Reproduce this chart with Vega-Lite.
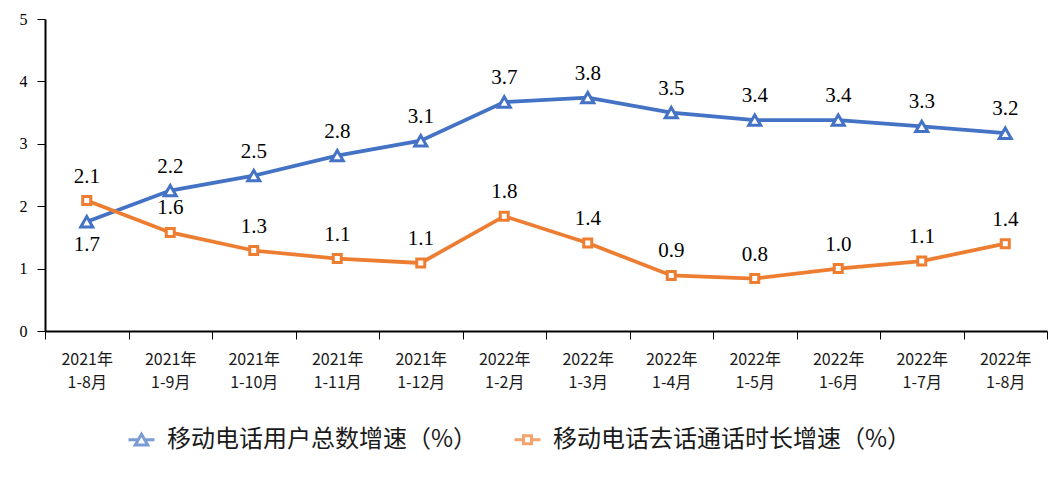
{
  "$schema": "https://vega.github.io/schema/vega-lite/v6.json",
  "width": 1002,
  "height": 312,
  "autosize": {"type": "none"},
  "padding": {"left": 45, "top": 19, "right": 11, "bottom": 155},
  "background": "white",
  "config": {
    "view": {"stroke": null},
    "axis": {"grid": false}
  },
  "data": {
    "values": [
      {"cat": "2021年 1-8月", "series": "移动电话用户总数增速（%）", "value": 1.75, "label": "1.7"},
      {"cat": "2021年 1-9月", "series": "移动电话用户总数增速（%）", "value": 2.25, "label": "2.2"},
      {"cat": "2021年 1-10月", "series": "移动电话用户总数增速（%）", "value": 2.49, "label": "2.5"},
      {"cat": "2021年 1-11月", "series": "移动电话用户总数增速（%）", "value": 2.81, "label": "2.8"},
      {"cat": "2021年 1-12月", "series": "移动电话用户总数增速（%）", "value": 3.05, "label": "3.1"},
      {"cat": "2022年 1-2月", "series": "移动电话用户总数增速（%）", "value": 3.67, "label": "3.7"},
      {"cat": "2022年 1-3月", "series": "移动电话用户总数增速（%）", "value": 3.74, "label": "3.8"},
      {"cat": "2022年 1-4月", "series": "移动电话用户总数增速（%）", "value": 3.50, "label": "3.5"},
      {"cat": "2022年 1-5月", "series": "移动电话用户总数增速（%）", "value": 3.38, "label": "3.4"},
      {"cat": "2022年 1-6月", "series": "移动电话用户总数增速（%）", "value": 3.38, "label": "3.4"},
      {"cat": "2022年 1-7月", "series": "移动电话用户总数增速（%）", "value": 3.28, "label": "3.3"},
      {"cat": "2022年 1-8月", "series": "移动电话用户总数增速（%）", "value": 3.17, "label": "3.2"},
      {"cat": "2021年 1-8月", "series": "移动电话去话通话时长增速（%）", "value": 2.09, "label": "2.1"},
      {"cat": "2021年 1-9月", "series": "移动电话去话通话时长增速（%）", "value": 1.58, "label": "1.6"},
      {"cat": "2021年 1-10月", "series": "移动电话去话通话时长增速（%）", "value": 1.29, "label": "1.3"},
      {"cat": "2021年 1-11月", "series": "移动电话去话通话时长增速（%）", "value": 1.16, "label": "1.1"},
      {"cat": "2021年 1-12月", "series": "移动电话去话通话时长增速（%）", "value": 1.09, "label": "1.1"},
      {"cat": "2022年 1-2月", "series": "移动电话去话通话时长增速（%）", "value": 1.84, "label": "1.8"},
      {"cat": "2022年 1-3月", "series": "移动电话去话通话时长增速（%）", "value": 1.41, "label": "1.4"},
      {"cat": "2022年 1-4月", "series": "移动电话去话通话时长增速（%）", "value": 0.89, "label": "0.9"},
      {"cat": "2022年 1-5月", "series": "移动电话去话通话时长增速（%）", "value": 0.84, "label": "0.8"},
      {"cat": "2022年 1-6月", "series": "移动电话去话通话时长增速（%）", "value": 1.00, "label": "1.0"},
      {"cat": "2022年 1-7月", "series": "移动电话去话通话时长增速（%）", "value": 1.12, "label": "1.1"},
      {"cat": "2022年 1-8月", "series": "移动电话去话通话时长增速（%）", "value": 1.40, "label": "1.4"}
    ]
  },
  "encoding": {
    "x": {
      "field": "cat", "type": "nominal", "sort": null, "bandPosition": 0.5,
      "scale": {"type": "band", "paddingInner": 0, "paddingOuter": 0},
      "axis": {
        "title": null, "labelAngle": 0, "tickBand": "extent",
        "labelExpr": "split(datum.label, ' ')",
        "labelFont": "Noto Sans CJK SC", "labelFontSize": 16, "labelColor": "#1a1a1a",
        "labelLineHeight": 23, "labelPadding": 12, "labelBaseline": "top",
        "tickSize": 8, "tickColor": "black", "tickWidth": 1,
        "domainColor": "black", "domainWidth": 2
      }
    },
    "y": {
      "field": "value", "type": "quantitative",
      "scale": {"domain": [0, 5], "nice": false, "zero": true},
      "axis": {
        "title": null, "values": [0, 1, 2, 3, 4, 5], "format": "d",
        "labelFont": "Liberation Serif", "labelFontSize": 16, "labelColor": "black",
        "labelPadding": 10, "tickSize": 8, "tickColor": "black", "tickWidth": 1,
        "domainColor": "black", "domainWidth": 2
      }
    },
    "color": {
      "field": "series", "type": "nominal",
      "scale": {
        "domain": ["移动电话用户总数增速（%）", "移动电话去话通话时长增速（%）"],
        "range": ["#4472C4", "#ED7D31"]
      },
      "legend": {
        "title": null, "orient": "none", "direction": "horizontal",
        "legendX": 82, "legendY": 406, "padding": 0,
        "labelFont": "Noto Sans CJK SC", "labelFontSize": 24, "labelColor": "#1a1a1a",
        "labelLimit": 500, "labelOffset": 11, "columnPadding": 30,
        "symbolSize": 676, "symbolStrokeWidth": 3
      }
    }
  },
  "layer": [
    {"mark": {"type": "line", "strokeWidth": 3.75}},
    {
      "transform": [{"filter": "false"}],
      "mark": {"type": "point", "filled": false, "strokeWidth": 3},
      "encoding": {
        "shape": {
          "field": "series", "type": "nominal",
          "scale": {
            "domain": ["移动电话用户总数增速（%）", "移动电话去话通话时长增速（%）"],
            "range": ["M-1,0H-0.33M0.33,0H1M0,-0.42L0.48,0.4H-0.48Z", "M-1,0H-0.31M0.31,0H1M-0.31,-0.31H0.31V0.31H-0.31Z"]
          },
          "legend": {"title": null}
        }
      }
    },
    {
      "transform": [{"filter": "datum.series === '移动电话用户总数增速（%）'"}],
      "mark": {"type": "point", "shape": "triangle-up", "size": 144, "filled": false, "fill": "white", "strokeWidth": 3, "opacity": 1}
    },
    {
      "transform": [{"filter": "datum.series === '移动电话去话通话时长增速（%）'"}],
      "mark": {"type": "point", "shape": "square", "size": 64, "filled": false, "fill": "white", "strokeWidth": 3, "opacity": 1}
    },
    {
      "transform": [{"filter": "!(datum.series === '移动电话用户总数增速（%）' && datum.cat === '2021年 1-8月')"}],
      "mark": {"type": "text", "font": "Liberation Serif", "fontSize": 21, "dy": -24, "baseline": "middle"},
      "encoding": {"text": {"field": "label"}, "color": {"value": "black"}}
    },
    {
      "transform": [{"filter": "datum.series === '移动电话用户总数增速（%）' && datum.cat === '2021年 1-8月'"}],
      "mark": {"type": "text", "font": "Liberation Serif", "fontSize": 21, "dy": 23, "baseline": "middle"},
      "encoding": {"text": {"field": "label"}, "color": {"value": "black"}}
    }
  ]
}
